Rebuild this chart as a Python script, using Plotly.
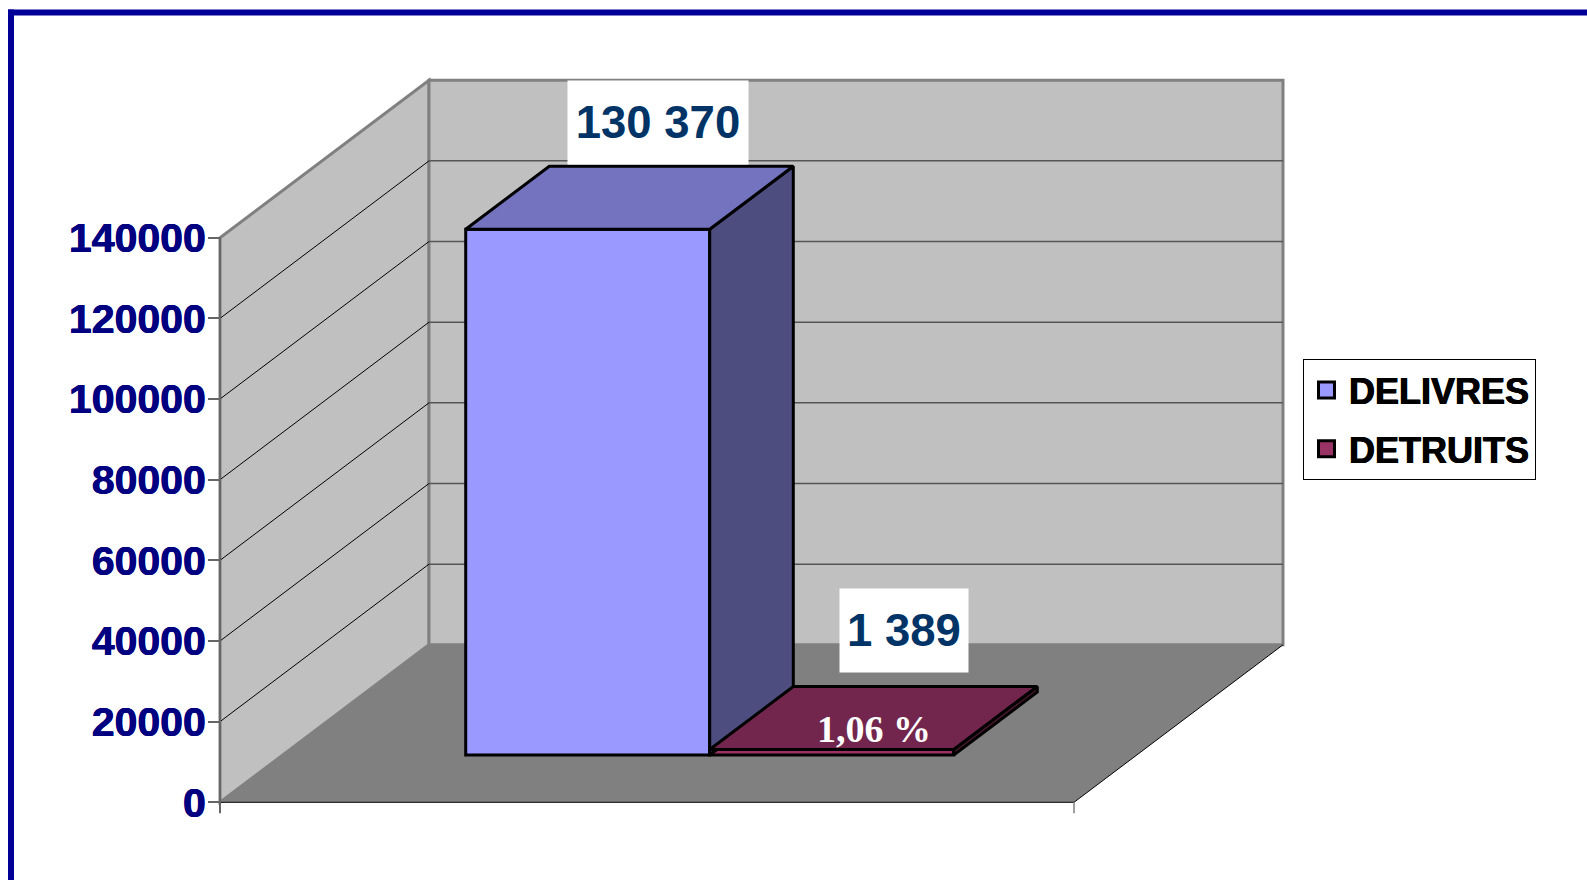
import plotly.graph_objects as go

series = ['DELIVRES', 'DETRUITS']
values = [130370, 1389]
value_labels = ['130 370', '1 389']
share_label = '1,06 %'
tick_vals = [0, 20000, 40000, 60000, 80000, 100000, 120000, 140000]

front_colors = ['#9999FF', '#993366']
top_colors = ['#7373BF', '#72264D']
side_colors = ['#4D4D80', '#4D1A33']

W, H = 1587, 880
# where the front plane of the 3d box sits on the page
LEFT, RIGHT = 220, 1074
Y_ZERO, Y_TOP = 802.3, 237.7
VMAX = 140000
px_x = 1 / (RIGHT - LEFT)
px_v = VMAX / (Y_ZERO - Y_TOP)

# depth of the box, in axis units
DEPTH_X = 209 * px_x
DEPTH_V = 157.5 * px_v
GAP_WIDTH = 1.5
BAR_W = 1 / (len(values) + GAP_WIDTH)
D_FRONT, D_BACK = 0.3, 0.7


def proj(x, v, d):
    return x + d * DEPTH_X, v + d * DEPTH_V


def poly(points):
    path = 'M' + 'L'.join(f'{x},{y}' for x, y in points) + 'Z'
    return path


def heavy(col, w=0.4):
    # the source text is drawn heavier than plain bold
    return f'{w}px 0 0 {col}, -{w}px 0 0 {col}'


fig = go.Figure()

shapes = []
# side wall, back wall, floor
side_wall = [proj(0, 0, 0), proj(0, 0, 1), proj(0, VMAX, 1), proj(0, VMAX, 0)]
back_wall = [proj(0, 0, 1), proj(1, 0, 1), proj(1, VMAX, 1), proj(0, VMAX, 1)]
floor = [proj(0, 0, 0), proj(1, 0, 0), proj(1, 0, 1), proj(0, 0, 1)]
for pts in (side_wall, back_wall):
    shapes.append(dict(type='path', path=poly(pts), xref='x', yref='y', layer='below',
                       fillcolor='#C0C0C0', line=dict(color='#808080', width=3)))
for t in tick_vals[1:-1]:
    a, b, c = proj(0, t, 0), proj(0, t, 1), proj(1, t, 1)
    shapes.append(dict(type='line', x0=a[0], y0=a[1], x1=b[0], y1=b[1], xref='x', yref='y',
                       layer='below', line=dict(color='#000000', width=1)))
    shapes.append(dict(type='line', x0=b[0], y0=b[1], x1=c[0], y1=c[1], xref='x', yref='y',
                       layer='below', line=dict(color='#555555', width=1.5)))
shapes.append(dict(type='path', path=poly(floor), xref='x', yref='y', layer='below',
                   fillcolor='#808080', line=dict(width=0)))
# floor edges
a, b, c = proj(0, 0, 0), proj(1, 0, 0), proj(1, 0, 1)
shapes.append(dict(type='path', path='M' + 'L'.join(f'{p[0]},{p[1]}' for p in (a, b, c)),
                   xref='x', yref='y', layer='below', line=dict(color='#000000', width=1)))
# axis lines run a little below zero
overhang = -11 * px_v
shapes.append(dict(type='line', x0=0, x1=0, y0=overhang, y1=VMAX, xref='x', yref='y',
                   layer='below', line=dict(color='#666666', width=2)))
shapes.append(dict(type='line', x0=1, x1=1, y0=overhang, y1=0, xref='x', yref='y',
                   layer='below', line=dict(color='#808080', width=1.5)))
# blue page frame
shapes.append(dict(type='rect', xref='paper', yref='paper', x0=8 / W, x1=14 / W, y0=0, y1=1 - 9.5 / H,
                   fillcolor='#000099', line=dict(width=0), layer='below'))
shapes.append(dict(type='rect', xref='paper', yref='paper', x0=8 / W, x1=1, y0=1 - 15.5 / H, y1=1 - 9.5 / H,
                   fillcolor='#000099', line=dict(width=0), layer='below'))

annotations = []
label_shift = [(28, 75), (30, 87)]
label_size = [(178, 81), (126, 81)]
for i, (name, v) in enumerate(zip(series, values)):
    x0 = (GAP_WIDTH / 2 + i) * BAR_W
    x1 = x0 + BAR_W
    base = D_FRONT * DEPTH_V
    fig.add_trace(go.Bar(x=[(x0 + x1) / 2 + D_FRONT * DEPTH_X], y=[v], base=[base], width=[BAR_W],
                         marker=dict(color=front_colors[i], line=dict(color='#000000', width=3)),
                         showlegend=False, hoverinfo='skip'))
    top = [proj(x0, v, D_FRONT), proj(x1, v, D_FRONT), proj(x1, v, D_BACK), proj(x0, v, D_BACK)]
    side = [proj(x1, 0, D_FRONT), proj(x1, 0, D_BACK), proj(x1, v, D_BACK), proj(x1, v, D_FRONT)]
    for pts, col in ((side, side_colors[i]), (top, top_colors[i])):
        pts = pts + pts[:1]  # close the outline
        fig.add_trace(go.Scatter(x=[p[0] for p in pts], y=[p[1] for p in pts], mode='lines', fill='toself',
                                 fillcolor=col, line=dict(color='#000000', width=3),
                                 showlegend=False, hoverinfo='skip'))
    # legend entry
    fig.add_trace(go.Scatter(x=[None], y=[None], mode='markers', name=name, legendgroup=name,
                             marker=dict(symbol='square', size=16, color=front_colors[i],
                                         line=dict(color='#000000', width=3))))
    cx, cy = proj((x0 + x1) / 2, v, 0.5)
    annotations.append(dict(x=cx, y=cy, xref='x', yref='y', text=value_labels[i], showarrow=False,
                            xshift=label_shift[i][0], yshift=label_shift[i][1],
                            width=label_size[i][0], height=label_size[i][1], bgcolor='#FFFFFF',
                            font=dict(family='Liberation Sans', size=45.5, color='#003366', weight=700)))
    if i == 1:
        annotations.append(dict(x=cx, y=cy, xref='x', yref='y', text=share_label, showarrow=False,
                                yshift=-11,
                                font=dict(family='Liberation Serif', size=38, color='#FFFFFF', weight=700)))

fig.update_layout(
    width=W, height=H, margin=dict(l=0, r=0, t=0, b=0),
    paper_bgcolor='#FFFFFF', plot_bgcolor='#FFFFFF',
    shapes=shapes, annotations=annotations,
    legend=dict(x=1303 / W, xanchor='left', y=1 - 359 / H, yanchor='top',
                bgcolor='#FFFFFF', bordercolor='#000000', borderwidth=1,
                itemwidth=35, itemsizing='trace', traceorder='grouped', tracegroupgap=9,
                entrywidth=189, entrywidthmode='pixels',
                font=dict(family='Liberation Sans', size=36, color='#000000', weight=700,
                          shadow=heavy('#000000'))),
    xaxis=dict(range=[-LEFT * px_x, (W - LEFT) * px_x], visible=False, fixedrange=True),
    yaxis=dict(range=[-(H - Y_ZERO) * px_v, Y_ZERO * px_v], anchor='free', position=LEFT / W,
               tickvals=tick_vals, tickformat='d', ticks='outside', ticklen=12, tickwidth=2,
               tickcolor='#666666', showgrid=False, zeroline=False, showline=False, fixedrange=True,
               ticklabelstandoff=-6,
               tickfont=dict(family='Liberation Sans', size=41, color='#000080', weight=700,
                             shadow=heavy('#000080'))),
)
# the page's default body margin would push the figure 8px off
fig.write_html("out.html", config=dict(displayModeBar=False),
               post_script="document.body.style.margin='0';")
